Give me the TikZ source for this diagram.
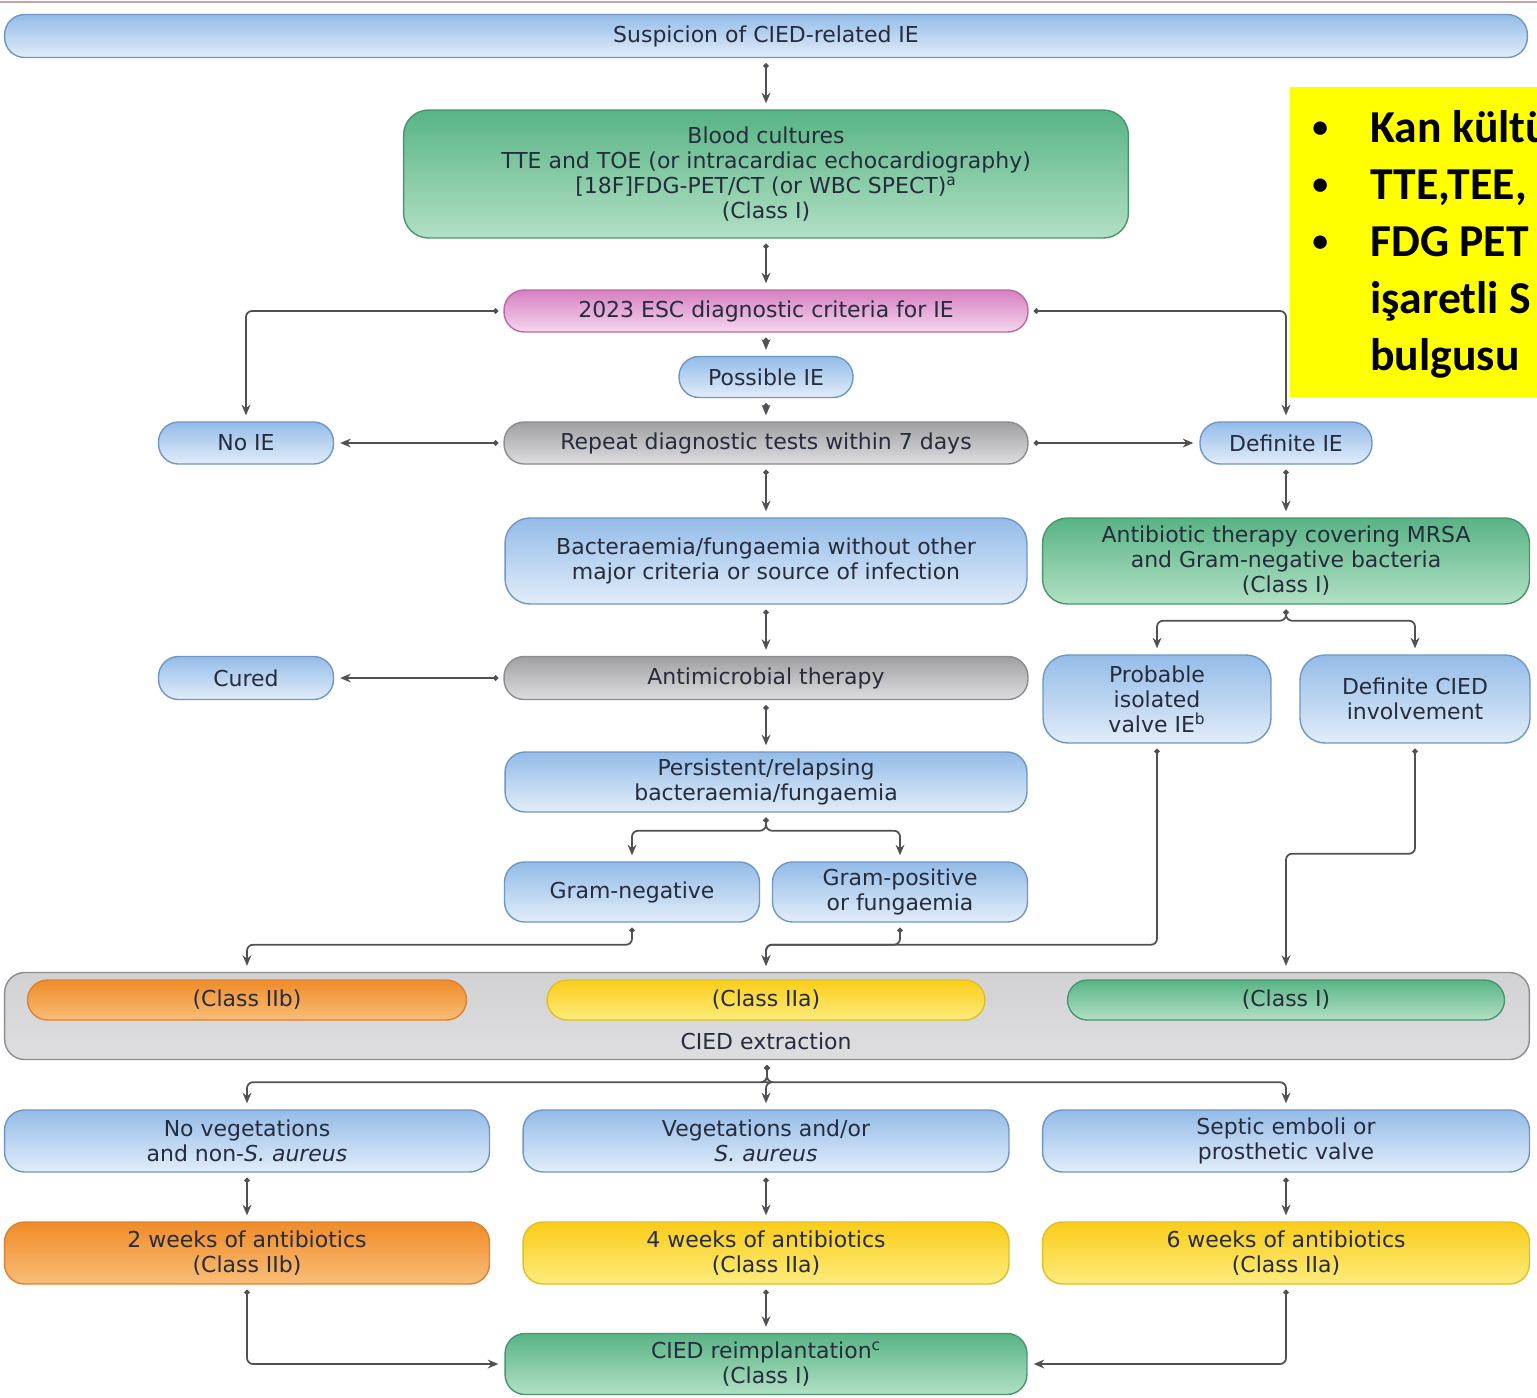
\documentclass[tikz,border=0pt]{standalone}
\usepackage{fontspec}
\setmainfont{DejaVu Sans}
\newfontfamily\calloutfont{Carlito}
\usetikzlibrary{arrows.meta}

\definecolor{txtc}{RGB}{38,44,60}
\definecolor{linec}{RGB}{80,80,86}
\definecolor{bluetop}{RGB}{148,188,232}
\definecolor{bluebot}{RGB}{226,237,249}
\definecolor{blueedge}{RGB}{112,150,198}
\definecolor{greentop}{RGB}{88,180,132}
\definecolor{greenbot}{RGB}{178,224,198}
\definecolor{greenedge}{RGB}{72,150,110}
\definecolor{pinktop}{RGB}{214,128,194}
\definecolor{pinkbot}{RGB}{246,214,238}
\definecolor{pinkedge}{RGB}{185,105,165}
\definecolor{graytop}{RGB}{160,160,163}
\definecolor{graybot}{RGB}{222,222,225}
\definecolor{grayedge}{RGB}{140,140,145}
\definecolor{orangetop}{RGB}{239,140,40}
\definecolor{orangebot}{RGB}{250,190,120}
\definecolor{orangeedge}{RGB}{220,130,50}
\definecolor{yellowtop}{RGB}{250,205,25}
\definecolor{yellowbot}{RGB}{253,236,125}
\definecolor{yellowedge}{RGB}{225,190,40}
\definecolor{calloutc}{RGB}{255,255,0}
\definecolor{framec}{RGB}{205,160,168}

\begin{document}
\begin{tikzpicture}[x=0.02cm, y=-0.02cm,
  font=\fontsize{12.5}{14.2}\selectfont,
  flowbox/.style={draw, line width=0.8pt, rounded corners=0.4cm, inner sep=2pt,
    align=center, text=txtc},
  bluebox/.style={flowbox, draw=blueedge, top color=bluetop, bottom color=bluebot},
  greenbox/.style={flowbox, draw=greenedge, top color=greentop, bottom color=greenbot},
  pinkbox/.style={flowbox, draw=pinkedge, top color=pinktop, bottom color=pinkbot},
  graybox/.style={flowbox, draw=grayedge, top color=graytop, bottom color=graybot},
  orangebox/.style={flowbox, draw=orangeedge, top color=orangetop, bottom color=orangebot},
  yellowbox/.style={flowbox, draw=yellowedge, top color=yellowtop, bottom color=yellowbot},
  conn/.style={draw=linec, line width=1pt, rounded corners=0.12cm,
    {Circle[length=3pt]}-{Stealth[length=6pt,width=5pt]},
    shorten <=0.1cm, shorten >=0.12cm},
  calloutln/.style={anchor=base west, inner sep=0pt, text=black,
    font=\fontsize{26}{32}\calloutfont\bfseries},
  calloutdot/.style={calloutln, font=\fontsize{18}{20}\calloutfont\bfseries}]

  % page and frame
  \fill[white] (0,0) rectangle (1537,1397);
  \useasboundingbox (0,0) rectangle (1537,1397);
  \draw[framec, line width=1pt] (0,2) -- (1537,2);

  % diagnosis
  \node[bluebox, minimum width=30.46cm, minimum height=0.86cm] (susp) at (766,36)
    {Suspicion of CIED-related IE};
  \node[greenbox, rounded corners=0.5cm, minimum width=14.5cm, minimum height=2.56cm] (blood) at (766,174)
    {Blood cultures\\TTE and TOE (or intracardiac echocardiography)\\{}[18F]FDG-PET/CT (or WBC SPECT)\textsuperscript{a}\\(Class I)};
  \node[pinkbox, minimum width=10.48cm, minimum height=0.84cm] (esc) at (766,311)
    {2023 ESC diagnostic criteria for IE};
  \node[bluebox, minimum width=3.48cm, minimum height=0.82cm] (poss) at (766,377) {Possible IE};
  \node[bluebox, minimum width=3.5cm, minimum height=0.84cm] (noie) at (246,443) {No IE};
  \node[graybox, minimum width=10.48cm, minimum height=0.84cm] (repeat) at (766,443)
    {Repeat diagnostic tests within 7 days};
  \node[bluebox, minimum width=3.44cm, minimum height=0.84cm] (defie) at (1286,443) {Definite IE};

  % therapy
  \node[bluebox, rounded corners=0.5cm, minimum width=10.44cm, minimum height=1.72cm] (bact) at (766,561)
    {Bacteraemia/fungaemia without other\\major criteria or source of infection};
  \node[greenbox, rounded corners=0.5cm, minimum width=9.74cm, minimum height=1.72cm] (abx) at (1286,561)
    {Antibiotic therapy covering MRSA\\and Gram-negative bacteria\\(Class I)};
  \node[bluebox, minimum width=3.5cm, minimum height=0.86cm] (cured) at (246,678) {Cured};
  \node[graybox, minimum width=10.48cm, minimum height=0.86cm] (antimic) at (766,678)
    {Antimicrobial therapy};
  \node[bluebox, rounded corners=0.5cm, minimum width=4.56cm, minimum height=1.76cm] (prob) at (1157,699)
    {Probable\\isolated\\valve IE\textsuperscript{b}};
  \node[bluebox, rounded corners=0.5cm, minimum width=4.6cm, minimum height=1.76cm] (cieddef) at (1415,699)
    {Definite CIED\\involvement};
  \node[bluebox, minimum width=10.44cm, minimum height=1.2cm] (persist) at (766,782)
    {Persistent/relapsing\\bacteraemia/fungaemia};
  \node[bluebox, minimum width=5.1cm, minimum height=1.2cm] (gneg) at (632,892) {Gram-negative};
  \node[bluebox, minimum width=5.1cm, minimum height=1.2cm] (gpos) at (900,892)
    {Gram-positive\\or fungaemia};

  % CIED extraction band
  \node[graybox, top color=graybot!80!graytop, bottom color=graybot, minimum width=30.5cm, minimum height=1.74cm] (extract) at (767,1016) {};
  \node[orangebox, minimum width=8.78cm, minimum height=0.8cm] (c2b) at (247,1000) {(Class IIb)};
  \node[yellowbox, minimum width=8.76cm, minimum height=0.8cm] (c2a) at (766,1000) {(Class IIa)};
  \node[greenbox, minimum width=8.74cm, minimum height=0.8cm] (c1) at (1286,1000) {(Class I)};
  \node[text=txtc] (extlbl) at (766,1041) {CIED extraction};

  % duration and reimplantation
  \node[bluebox, minimum width=9.7cm, minimum height=1.24cm] (novegs) at (247,1141)
    {No vegetations\\and non-\textit{S. aureus}};
  \node[bluebox, minimum width=9.72cm, minimum height=1.24cm] (vegs) at (766,1141)
    {Vegetations and/or\\\textit{S. aureus}};
  \node[bluebox, minimum width=9.74cm, minimum height=1.24cm] (septic) at (1286,1141)
    {Septic emboli or\\prosthetic valve};
  \node[orangebox, minimum width=9.7cm, minimum height=1.24cm] (wk2) at (247,1253)
    {2 weeks of antibiotics\\(Class IIb)};
  \node[yellowbox, minimum width=9.72cm, minimum height=1.24cm] (wk4) at (766,1253)
    {4 weeks of antibiotics\\(Class IIa)};
  \node[yellowbox, minimum width=9.74cm, minimum height=1.24cm] (wk6) at (1286,1253)
    {6 weeks of antibiotics\\(Class IIa)};
  \node[greenbox, minimum width=10.44cm, minimum height=1.22cm] (reimp) at (766,1364)
    {CIED reimplantation\textsuperscript{c}\\(Class I)};

  % connectors
  \draw[conn] (susp.south) -- (blood.north);
  \draw[conn] (blood.south) -- (esc.north);
  \draw[conn] (esc.west) -| (noie.north);
  \draw[conn] (esc.east) -| (defie.north);
  \draw[conn] (esc.south) -- (poss.north);
  \draw[conn] (poss.south) -- (repeat.north);
  \draw[conn] (repeat.west) -- (noie.east);
  \draw[conn] (repeat.east) -- (defie.west);
  \draw[conn] (repeat.south) -- (bact.north);
  \draw[conn] (defie.south) -- (abx.north);
  \draw[conn] (bact.south) -- (antimic.north);
  \draw[conn] (antimic.west) -- (cured.east);
  \draw[conn] (antimic.south) -- (persist.north);
  \draw[conn] (abx.south) -- ++(0,16) -| (prob.north);
  \draw[conn] (abx.south) -- ++(0,16) -| (cieddef.north);
  \draw[conn] (persist.south) -- ++(0,18) -| (gneg.north);
  \draw[conn] (persist.south) -- ++(0,18) -| (gpos.north);
  \draw[conn] (gneg.south) -- ++(0,22) -| (c2b.north |- extract.north);
  \draw[conn] (gpos.south) -- ++(0,22) -| (c2a.north |- extract.north);
  \draw[conn] (prob.south) |- ([yshift=-0.44cm]gpos.south) -| (c2a.north |- extract.north);
  \draw[conn] (cieddef.south) -- ++(0,110) -| (c1.north |- extract.north);
  \foreach \dst in {novegs,vegs,septic}
    \draw[conn] (extract.south) -- ++(0,22) -| (\dst.north);
  \draw[conn] (novegs.south) -- (wk2.north);
  \draw[conn] (vegs.south) -- (wk4.north);
  \draw[conn] (septic.south) -- (wk6.north);
  \draw[conn] (wk2.south) |- (reimp.west);
  \draw[conn] (wk4.south) -- (reimp.north);
  \draw[conn] (wk6.south) |- (reimp.east);

  % yellow note, cut at the page edge
  \fill[calloutc] (1290,87) rectangle (1537,397);
  \begin{scope}
    \clip (1290,87) rectangle (1537,397);
    \foreach \yy in {142,199,256}
      \node[calloutdot] (bul\yy) at (1312,\yy-5) {•};
    \foreach \yy/\txt in {142/Kan kültü, 199/{TTE,TEE,}, 256/FDG PET, 313/işaretli S, 370/bulgusu}
      \node[calloutln] (ln\yy) at (1370,\yy) {\txt};
  \end{scope}
\end{tikzpicture}
\end{document}
